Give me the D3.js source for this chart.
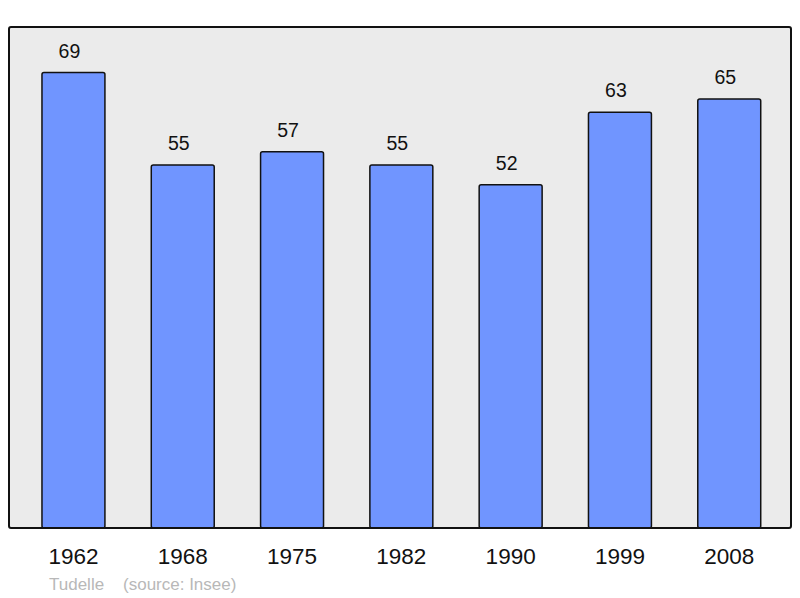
<!DOCTYPE html>
<html>
<head>
<meta charset="utf-8">
<script src="https://cdn.jsdelivr.net/npm/d3@7"></script>
<style>
  body { margin: 0; background: #fff; }
  text { font-family: "Liberation Sans", Arial, sans-serif; }
</style>
</head>
<body>
<svg width="800" height="598"></svg>
<script>
var years = ["1962", "1968", "1975", "1982", "1990", "1999", "2008"]
var population = [69, 55, 57, 55, 52, 63, 65]
var footer = "Tudelle    (source: Insee)"

var svg = d3.select('svg')
var frame = {left: 9, top: 27, right: 791, bottom: 528}

var x = d3.scaleBand()
  .domain(years)
  .range([18.8, 783.9])
  .paddingInner(0.424)
  .paddingOuter(0.212)

var y = d3.scaleLinear()
  .domain([0, d3.max(population) * 1.1])
  .range([frame.bottom, frame.top])

// plot background
svg.append("rect")
  .attr("x", frame.left)
  .attr("y", frame.top)
  .attr("width", frame.right - frame.left)
  .attr("height", frame.bottom - frame.top)
  .attr("rx", 2)
  .attr("fill", "#ebebeb")

var data = years.map((d, i) => ({year: d, value: population[i]}))

svg.append("g")
  .selectAll("rect")
  .data(data)
  .enter()
  .append("rect")
    .attr("x", d => x(d.year))
    .attr("y", d => y(d.value))
    .attr("width", x.bandwidth())
    .attr("height", d => y(0) - y(d.value))
    .attr("rx", 2)
    .attr("fill", "#7095ff")
    .attr("stroke", "#111")
    .attr("stroke-width", 1.5)

svg.append("g")
  .selectAll("text")
  .data(data)
  .enter()
  .append("text")
    .attr("x", d => x(d.year) + x.bandwidth() / 2 - 4)
    .attr("y", d => y(d.value) - 15)
    .attr("text-anchor", "middle")
    .attr("font-size", 19.5)
    .attr("fill", "#111")
    .text(d => d.value)

// frame border on top
svg.append("rect")
  .attr("x", frame.left)
  .attr("y", frame.top)
  .attr("width", frame.right - frame.left)
  .attr("height", frame.bottom - frame.top)
  .attr("rx", 2)
  .attr("fill", "none")
  .attr("stroke", "#111")
  .attr("stroke-width", 2)

var xAxis = g => g
  .attr("transform", `translate(0,${frame.bottom})`)
  .call(d3.axisBottom(x).tickSize(0).tickPadding(20))
  .call(g => g.select(".domain").remove())
  .call(g => g.selectAll("text")
    .attr("font-size", 22.5)
    .attr("font-family", "Liberation Sans, Arial, sans-serif")
    .attr("fill", "#111"))

svg.append("g").call(xAxis)

svg.append("text")
  .attr("x", 49)
  .attr("y", 590)
  .attr("font-size", 17)
  .attr("fill", "#b8b8b8")
  .attr("xml:space", "preserve")
  .style("white-space", "pre")
  .text(footer)
</script>
</body>
</html>
